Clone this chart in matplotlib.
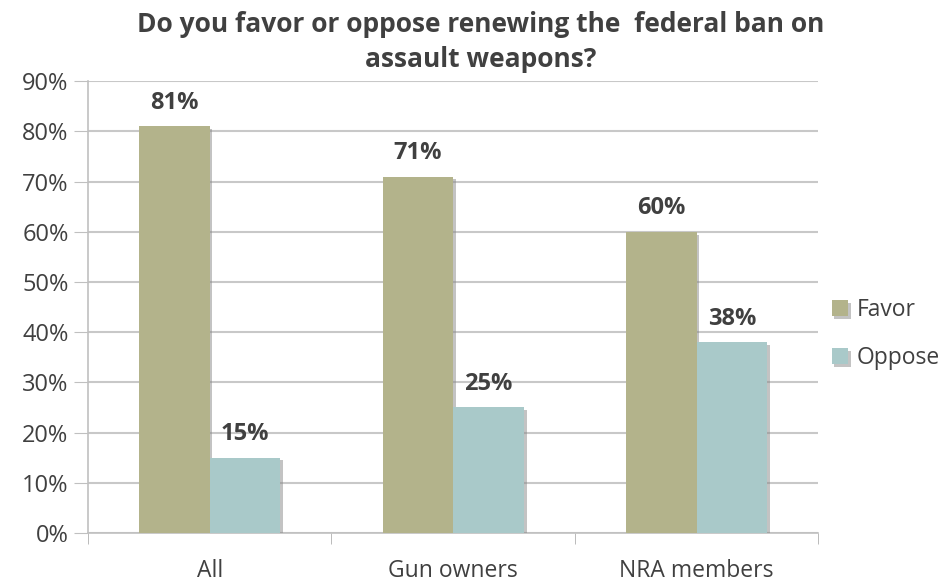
import numpy as np
import matplotlib
matplotlib.use("Agg")
import matplotlib.pyplot as plt
import matplotlib.patheffects as pe

plt.rcParams['font.family'] = ['Open Sans', 'DejaVu Sans']

categories = ['All', 'Gun owners', 'NRA members']
favor = [81, 71, 60]
oppose = [15, 25, 38]
yticks = [0, 10, 20, 30, 40, 50, 60, 70, 80, 90]

text_col = '#404040'
favor_col = '#b3b38b'
oppose_col = '#a9c9c9'

fig = plt.figure(figsize=(9.4, 5.85), dpi=100)
ax = fig.add_axes([0.0936, 0.089, 0.777, 0.772])

x = np.arange(len(categories))
w = 0.29
shadow = [pe.SimplePatchShadow(offset=(2, -2), shadow_rgbFace='#888888', alpha=0.5), pe.Normal()]
b1 = ax.bar(x - w / 2, favor, w, color=favor_col, label='Favor', zorder=3, path_effects=shadow)
b2 = ax.bar(x + w / 2, oppose, w, color=oppose_col, label='Oppose', zorder=3, path_effects=shadow)

for bars, vals in ((b1, favor), (b2, oppose)):
    for b, v in zip(bars, vals):
        ax.text(b.get_x() + b.get_width() / 2, v + 2.3, f'{v}%', ha='center', va='bottom',
                fontsize=17, fontweight='bold', color=text_col)

ax.set_xlim(-0.5, len(categories) - 0.5)
ax.set_ylim(0, 90)
ax.set_yticks(yticks)
ax.set_yticklabels([f'{t}%' for t in yticks], fontsize=17, color=text_col)
ax.set_xticks(x)
ax.set_xticklabels(categories, fontsize=16.5, color=text_col)
ax.tick_params(axis='x', length=0, pad=19)
ax.set_xticks(np.arange(len(categories) + 1) - 0.5, minor=True)
ax.tick_params(axis='x', which='minor', length=8, color='#b0b0b0')
ax.tick_params(axis='y', length=10, color='#c0c0c0', pad=4)

ax.grid(axis='y', color='#c8c8c8', linewidth=1.5, zorder=0)
ax.set_axisbelow(True)
for s in ['top', 'right']:
    ax.spines[s].set_visible(False)
ax.spines['left'].set_color('#c0c0c0')
ax.spines['bottom'].set_color('#c0c0c0')
ax.spines['left'].set_linewidth(1.2)
ax.spines['bottom'].set_linewidth(1.2)

fig.suptitle('Do you favor or oppose renewing the  federal ban on\nassault weapons?',
             x=0.511, y=0.982, fontsize=19, fontweight='bold', color=text_col, linespacing=1.42)

ax.legend(loc='center left', bbox_to_anchor=(0.99, 0.44), frameon=False, fontsize=16.5,
          handlelength=0.7, handleheight=0.7, labelspacing=1.05, handletextpad=0.4,
          labelcolor=text_col)

fig.savefig('out.png', dpi=100, facecolor='white')
